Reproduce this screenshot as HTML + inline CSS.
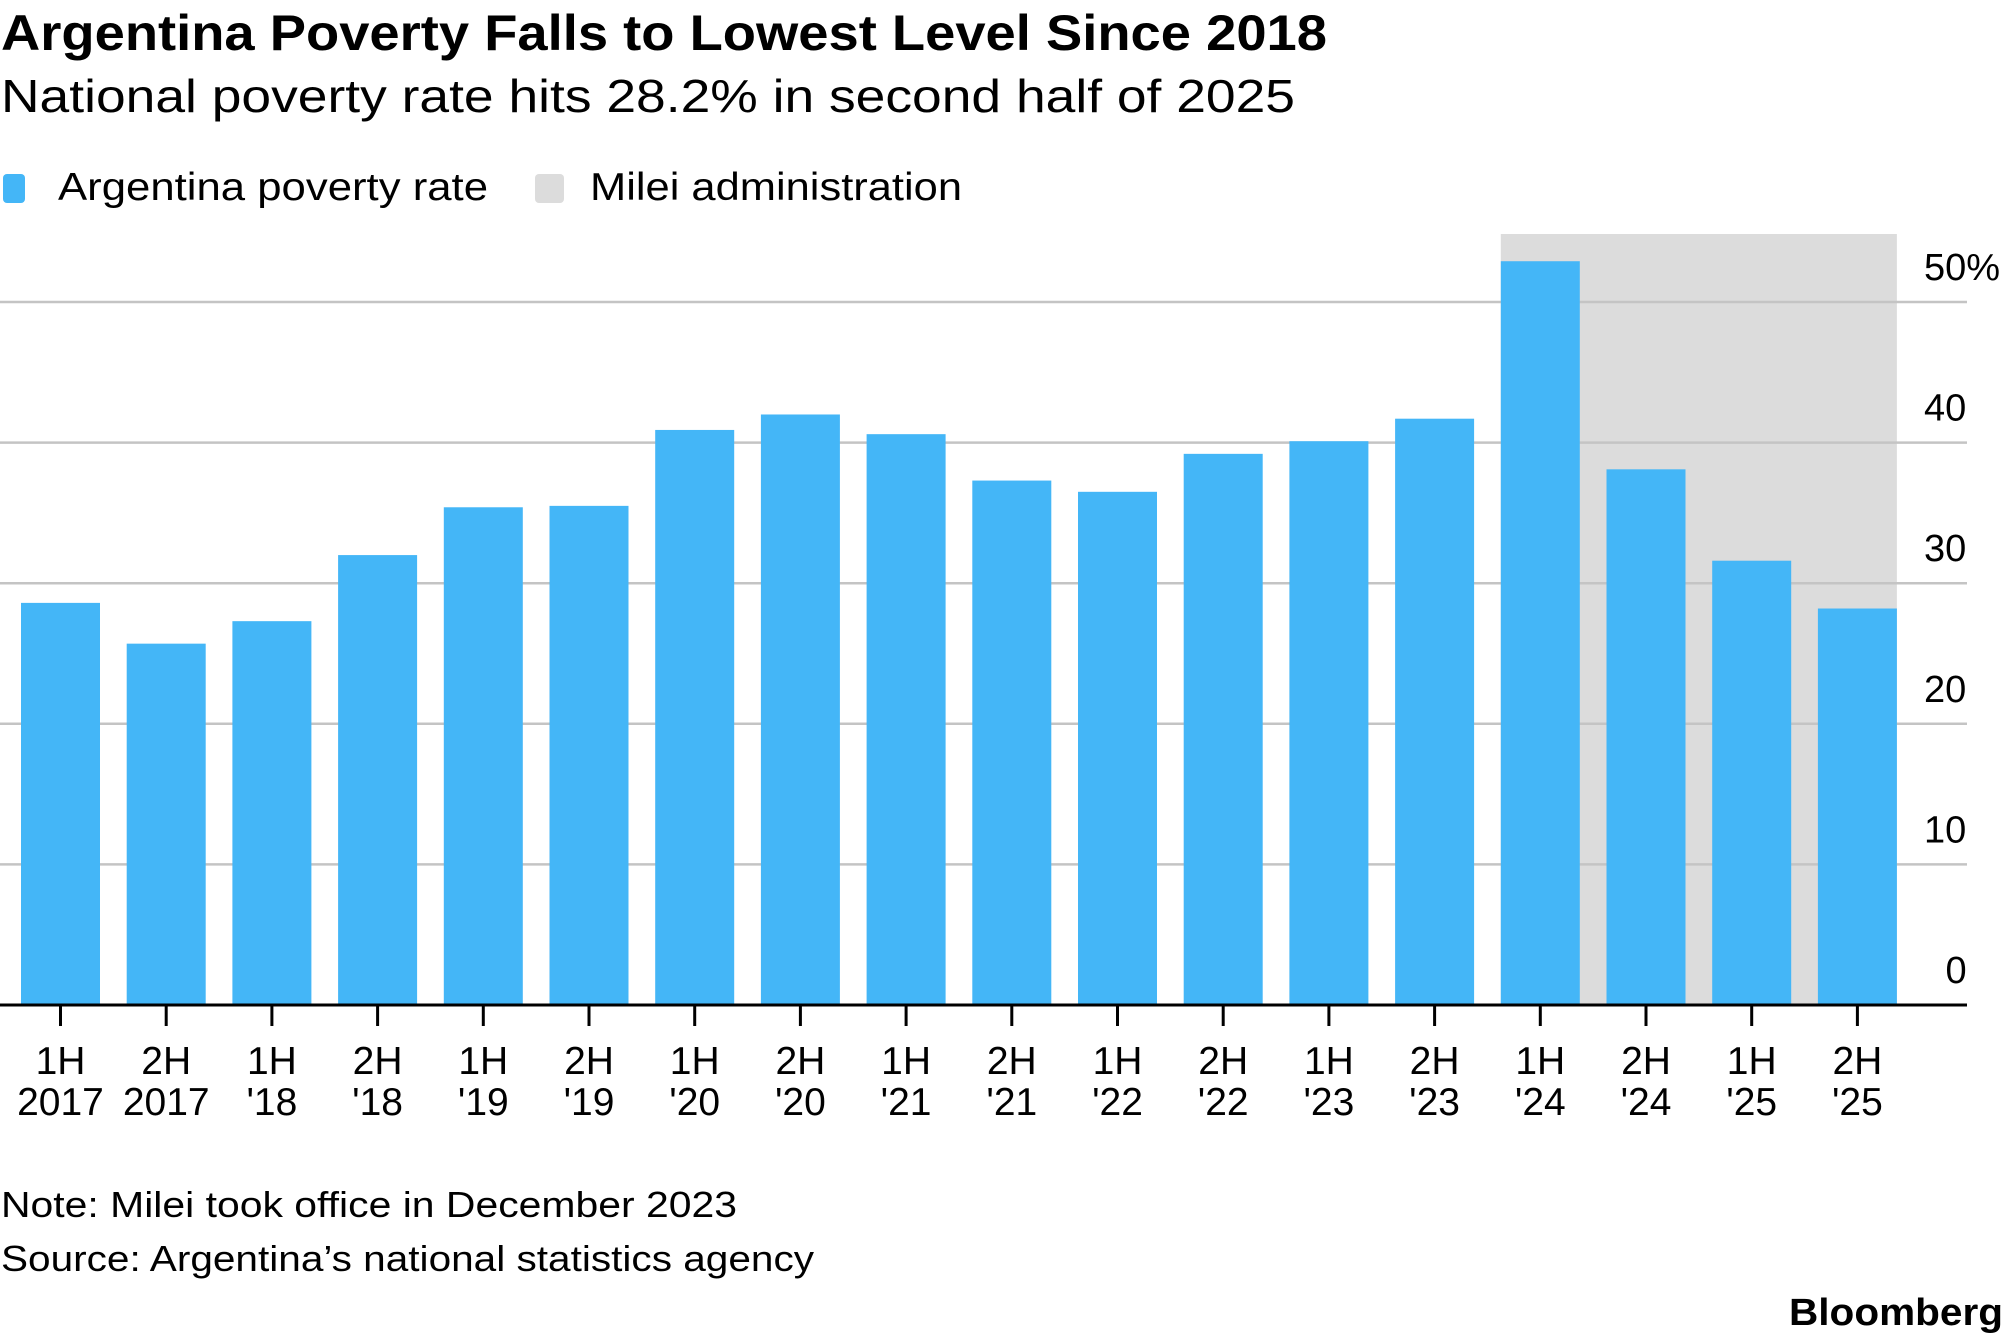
<!DOCTYPE html>
<html><head><meta charset="utf-8"><style>html,body{margin:0;padding:0;background:#fff}svg{display:block}text{font-family:"Liberation Sans",Arial,sans-serif;fill:#000}</style></head>
<body>
<svg id="chart" width="2005" height="1341" viewBox="0 0 2005 1341" xmlns="http://www.w3.org/2000/svg">
<text x="1" y="50" font-size="50" font-weight="bold" textLength="1326" lengthAdjust="spacingAndGlyphs">Argentina Poverty Falls to Lowest Level Since 2018</text>
<text x="1" y="112" font-size="46" textLength="1294" lengthAdjust="spacingAndGlyphs">National poverty rate hits 28.2% in second half of 2025</text>
<g>
<rect x="3" y="174" width="22" height="29" rx="4" fill="#44b6f7"/>
<text x="58" y="200" font-size="39" textLength="430" lengthAdjust="spacingAndGlyphs">Argentina poverty rate</text>
<rect x="535" y="174" width="29" height="29" rx="4" fill="#dcdcdc"/>
<text x="590" y="200" font-size="39" textLength="372" lengthAdjust="spacingAndGlyphs">Milei administration</text>
</g>
<g id="plot"></g>
<text x="1" y="1217" font-size="36" textLength="736" lengthAdjust="spacingAndGlyphs">Note: Milei took office in December 2023</text>
<text x="1" y="1271" font-size="36" textLength="813" lengthAdjust="spacingAndGlyphs">Source: Argentina’s national statistics agency</text>
<text x="2003" y="1325" font-size="38" font-weight="bold" text-anchor="end" textLength="214" lengthAdjust="spacingAndGlyphs">Bloomberg</text>
</svg>
<script>
const categoriesTop = ["1H","2H","1H","2H","1H","2H","1H","2H","1H","2H","1H","2H","1H","2H","1H","2H","1H","2H"];
const categoriesBottom = ["2017","2017","'18","'18","'19","'19","'20","'20","'21","'21","'22","'22","'23","'23","'24","'24","'25","'25"];
const povertyRate = [28.6,25.7,27.3,32.0,35.4,35.5,40.9,42.0,40.6,37.3,36.5,39.2,40.1,41.7,52.9,38.1,31.6,28.2];
const yTicks = [0,10,20,30,40,50];
const yTickLabels = ["0","10","20","30","40","50%"];
const mileiStartIndex = 14;

const NS = "http://www.w3.org/2000/svg";
const plot = document.getElementById("plot");
const y0 = 1005, pxPer = 14.06, x0 = 21, step = 105.7, bw = 79;
const yScale = v => y0 - v * pxPer;
const xLeft = i => x0 + i * step;
function mk(tag, attrs){const e=document.createElementNS(NS,tag);for(const k in attrs)e.setAttribute(k,attrs[k]);plot.appendChild(e);return e;}

const sh = mk("rect",{x:xLeft(mileiStartIndex),y:234,width:xLeft(povertyRate.length-1)+bw-xLeft(mileiStartIndex),height:y0-234,fill:"#dcdcdc"});



yTicks.forEach((t,i)=>{
  if(t!==0){
    const g = mk("line",{x1:0,x2:1967,y1:yScale(t),y2:yScale(t),stroke:"#c4c4c4","stroke-width":2.5});
    
    
  }
  const num = String(t);
  const lb = mk("text",{x:1967 - num.length*21.5,y:yScale(t)-22,"font-size":38});
  lb.textContent = yTickLabels[i];
  
  
});

povertyRate.forEach((v,i)=>{
  const b = mk("rect",{x:xLeft(i),y:yScale(v),width:bw,height:y0-yScale(v),fill:"#44b6f7"});
  
  
  const cx = xLeft(i)+bw/2;
  const tk = mk("line",{x1:cx,x2:cx,y1:y0,y2:y0+21,stroke:"#000","stroke-width":3});
  
  
  const t1 = mk("text",{x:cx,y:1074,"font-size":39,"text-anchor":"middle"});
  t1.textContent = categoriesTop[i];
  
  
  const t2 = mk("text",{x:cx,y:1115,"font-size":39,"text-anchor":"middle"});
  t2.textContent = categoriesBottom[i];
  
  
});

const ax = mk("line",{x1:0,x2:1967,y1:y0,y2:y0,stroke:"#000","stroke-width":3});


</script>
</body></html>
